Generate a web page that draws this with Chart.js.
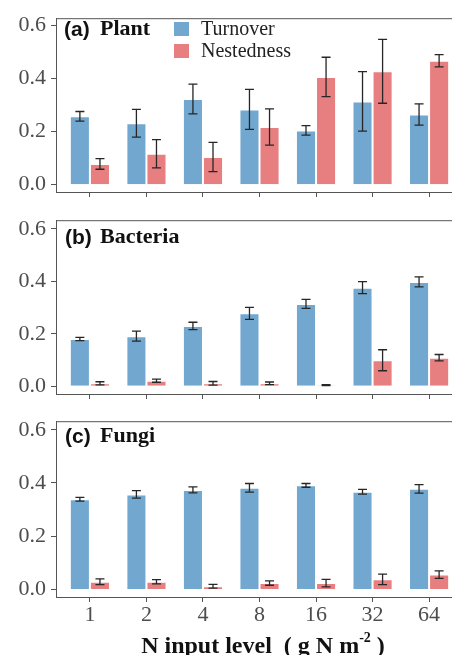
<!DOCTYPE html>
<html><head><meta charset="utf-8">
<script src="https://cdn.jsdelivr.net/npm/chart.js@4.4.1/dist/chart.umd.min.js"></script>
<style>
html,body{margin:0;padding:0;background:#fff;overflow:hidden;width:452px;height:655px;}
#wrap{position:relative;width:452px;height:655px;overflow:hidden;}
canvas{position:absolute;left:0;}
.t{position:absolute;white-space:nowrap;line-height:1;color:#111;}
.sans{font-family:"Liberation Sans",Arial,sans-serif;font-weight:bold;font-size:21px;}
.serifb{font-family:"Liberation Serif","Times New Roman",serif;font-weight:bold;font-size:22px;}
.leg{font-family:"Liberation Serif","Times New Roman",serif;font-size:20px;color:#222;}
.sw{position:absolute;width:15px;height:14px;}
#xt{font-family:"Liberation Serif","Times New Roman",serif;font-weight:bold;font-size:24px;left:263px;transform:translateX(-50%);top:633px;}
#xt sup{font-size:14px;vertical-align:top;position:relative;top:-2px;}
</style></head>
<body><div id="wrap">
<canvas id="ca" width="463" height="212" style="top:0px"></canvas>
<canvas id="cb" width="463" height="212" style="top:202px"></canvas>
<canvas id="cc" width="463" height="252" style="top:403px"></canvas>

<div class="t sans" style="left:64px;top:17.5px">(a)</div><div class="t serifb" style="left:100px;top:17px">Plant</div>
<div class="t sans" style="left:65px;top:225.5px">(b)</div><div class="t serifb" style="left:100px;top:225px">Bacteria</div>
<div class="t sans" style="left:65px;top:424.5px">(c)</div><div class="t serifb" style="left:100px;top:424px">Fungi</div>

<div id="legend"></div>
<div class="t" id="xt">N input level&nbsp;&nbsp;( g N m<sup>-2</sup> )</div>
</div>
<script>
const categories = ['1','2','4','8','16','32','64'];
const seriesNames = ['Turnover','Nestedness'];
const seriesColors = ['rgb(114,168,208)','rgb(231,127,128)'];
const yTicks = [0, 0.2, 0.4, 0.6];

const plantTurnover    = [0.257, 0.231, 0.322, 0.283, 0.204, 0.313, 0.264];
const plantTurnoverSE  = [0.018, 0.052, 0.056, 0.075, 0.018, 0.112, 0.040];
const plantNested      = [0.078, 0.116, 0.104, 0.217, 0.405, 0.426, 0.466];
const plantNestedSE    = [0.020, 0.053, 0.055, 0.068, 0.074, 0.120, 0.023];

const bactTurnover     = [0.180, 0.191, 0.230, 0.278, 0.314, 0.376, 0.398];
const bactTurnoverSE   = [0.006, 0.019, 0.014, 0.023, 0.017, 0.023, 0.019];
const bactNested       = [0.011, 0.021, 0.011, 0.011, 0.004, 0.099, 0.109];
const bactNestedSE     = [0.006, 0.006, 0.007, 0.005, 0.002, 0.040, 0.012];

const fungiTurnover    = [0.339, 0.357, 0.374, 0.382, 0.391, 0.367, 0.378];
const fungiTurnoverSE  = [0.007, 0.014, 0.011, 0.016, 0.007, 0.009, 0.016];
const fungiNested      = [0.029, 0.029, 0.012, 0.024, 0.024, 0.038, 0.056];
const fungiNestedSE    = [0.011, 0.008, 0.007, 0.008, 0.014, 0.020, 0.014];

const tickFamily = '"Liberation Serif", "Times New Roman", serif';

// legend built from series names/colours
(function(){
  const lg = document.getElementById('legend');
  const tops = [21.5, 43.8];
  seriesNames.forEach((n,i)=>{
    const s=document.createElement('div'); s.className='sw';
    s.style.left='174px'; s.style.top=tops[i]+'px'; s.style.background=seriesColors[i];
    lg.appendChild(s);
    const t=document.createElement('div'); t.className='t leg';
    t.style.left='201px'; t.style.top=(tops[i]-3.5)+'px'; t.textContent=n;
    lg.appendChild(t);
  });
})();

const errorBarPlugin = {
  id:'errorBars',
  afterDatasetsDraw(chart){
    const ctx=chart.ctx, ys=chart.scales.y;
    chart.data.datasets.forEach((ds,di)=>{
      const meta=chart.getDatasetMeta(di);
      meta.data.forEach((bar,i)=>{
        const v=ds.data[i].y, e=ds.errors[i];
        const yt=ys.getPixelForValue(v+e), yb=ys.getPixelForValue(v-e);
        const x=bar.x, c=4.5;
        ctx.save(); ctx.strokeStyle='#262626'; ctx.lineWidth=1.3;
        ctx.beginPath();
        ctx.moveTo(x,yt); ctx.lineTo(x,yb);
        ctx.moveTo(x-c,yt); ctx.lineTo(x+c,yt);
        ctx.moveTo(x-c,yb); ctx.lineTo(x+c,yb);
        ctx.stroke(); ctx.restore();
      });
    });
  }
};
const topBorderPlugin = {
  id:'topBorder',
  afterDraw(chart){
    const a=chart.chartArea, ctx=chart.ctx;
    ctx.save(); ctx.strokeStyle='#555'; ctx.lineWidth=1;
    ctx.beginPath(); ctx.moveTo(a.left, a.top+0.5); ctx.lineTo(a.right, a.top+0.5); ctx.stroke();
    ctx.restore();
  }
};

function makePanel(id, turn, turnSE, nest, nestSE, yMin, yMax, showX, xh){
  const mk=(vals,se,i)=>({
    label:seriesNames[i],
    data:vals.map((v,j)=>({x:j,y:v})),
    errors:se,
    backgroundColor:seriesColors[i],
    borderColor:'rgba(255,255,255,0.55)',
    borderWidth:1,
    categoryPercentage:0.71,
    barPercentage:1.0
  });
  new Chart(document.getElementById(id), {
    type:'bar',
    data:{datasets:[mk(turn,turnSE,0), mk(nest,nestSE,1)]},
    options:{
      responsive:false, animation:false,
      layout:{padding:{top:14,left:0,right:0,bottom:0}},
      plugins:{legend:{display:false}, tooltip:{enabled:false}},
      scales:{
        x:{type:'linear', min:-0.6, max:6.6, offset:false,
          afterBuildTicks:s=>{ s.ticks=categories.map((c,i)=>({value:i})); },
          afterFit:s=>{ s.height=xh; },
          ticks:{display:showX, autoSkip:false, maxRotation:0, padding:0,
            callback:v=>categories[v],
            font:{family:tickFamily, size:22}, color:'#4d4d4d'},
          grid:{display:true, drawOnChartArea:false, drawTicks:true, tickLength:5, color:'#555', offset:false},
          border:{display:true, color:'#555', width:1}
        },
        y:{min:yMin, max:yMax,
          afterBuildTicks:s=>{ s.ticks=yTicks.map(v=>({value:v})); },
          afterFit:s=>{ s.width=56; },
          ticks:{padding:5, callback:v=>Number(v).toFixed(1),
            font:{family:tickFamily, size:22}, color:'#4d4d4d'},
          grid:{display:true, drawOnChartArea:false, drawTicks:true, tickLength:5, color:'#555'},
          border:{display:true, color:'#555', width:1}
        }
      }
    },
    plugins:[errorBarPlugin, topBorderPlugin]
  });
}

makePanel('ca', plantTurnover, plantTurnoverSE, plantNested, plantNestedSE, -0.0275, 0.6257, false, 20);
makePanel('cb', bactTurnover, bactTurnoverSE, bactNested, bactNestedSE, -0.0298, 0.6335, false, 20);
makePanel('cc', fungiTurnover, fungiTurnoverSE, fungiNested, fungiNestedSE, -0.0282, 0.632, true, 58);
</script>
</body></html>
